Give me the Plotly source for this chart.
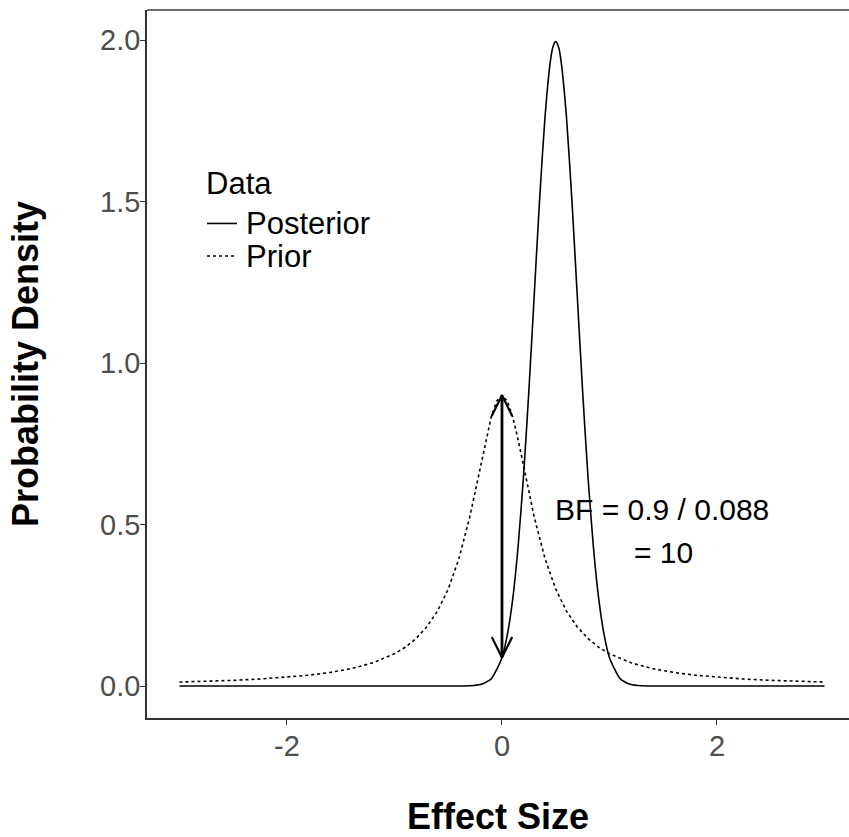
import plotly.graph_objects as go

# ---- data ----
prior_x = [-3.0, -2.75, -2.5, -2.25, -2.0, -1.8, -1.6, -1.4, -1.2, -1.0, -0.9, -0.8, -0.7, -0.6,
           -0.5, -0.4, -0.3, -0.2, -0.15, -0.1, -0.05, 0.0, 0.05, 0.1, 0.15, 0.2, 0.3, 0.4, 0.5,
           0.6, 0.7, 0.8, 0.9, 1.0, 1.2, 1.4, 1.6, 1.8, 2.0, 2.25, 2.5, 2.75, 3.0]
prior_y = [0.0123, 0.0146, 0.0176, 0.0217, 0.0273, 0.0334, 0.0419, 0.054, 0.0719, 0.100, 0.120,
           0.147, 0.183, 0.232, 0.300, 0.395, 0.523, 0.682, 0.763, 0.833, 0.882, 0.900, 0.882,
           0.833, 0.763, 0.682, 0.523, 0.395, 0.300, 0.232, 0.183, 0.147, 0.120, 0.100, 0.0719,
           0.054, 0.0419, 0.0334, 0.0273, 0.0217, 0.0176, 0.0146, 0.0123]

post_x = [-3.0, -1.0, -0.5, -0.4, -0.3, -0.2, -0.1, 0.0, 0.05, 0.1, 0.15, 0.2, 0.25, 0.3, 0.35,
          0.4, 0.45, 0.475, 0.5, 0.525, 0.55, 0.6, 0.65, 0.7, 0.75, 0.8, 0.85, 0.9, 0.95, 1.0,
          1.1, 1.2, 1.3, 1.4, 1.5, 3.0]
post_y = [0.0, 0.0, 0.0, 0.00008, 0.00067, 0.0044, 0.0222, 0.0876, 0.159, 0.270, 0.432, 0.648,
          0.913, 1.210, 1.506, 1.761, 1.934, 1.980, 1.995, 1.980, 1.934, 1.761, 1.506, 1.210,
          0.913, 0.648, 0.432, 0.270, 0.159, 0.0876, 0.0222, 0.0044, 0.00067, 0.00008, 0.0, 0.0]

series_names = ["Posterior", "Prior"]
series_dash = ["solid", "dot"]
legend_title = "Data"
bf_at = 0.0                 # effect size where densities are compared
bf_prior = 0.9
bf_post = 0.088
bf_lines = ["BF = 0.9 / 0.088", "= 10"]
x_ticks = [-2, 0, 2]
y_ticks = [0.0, 0.5, 1.0, 1.5, 2.0]
y_tick_labels = ["0.0", "0.5", "1.0", "1.5", "2.0"]

FONT = "Liberation Sans, Arial, sans-serif"

fig = go.Figure()
fig.add_trace(go.Scatter(x=post_x, y=post_y, mode="lines", name=series_names[0], showlegend=False,
                         line=dict(color="black", width=1.6, dash=series_dash[0], shape="spline",
                                   smoothing=0.6)))
fig.add_trace(go.Scatter(x=prior_x, y=prior_y, mode="lines", name=series_names[1], showlegend=False,
                         line=dict(color="black", width=1.6, dash=series_dash[1])))

# double-headed arrow between the two densities at 0
hx, hy = 0.095, 0.064
fig.add_trace(go.Scatter(x=[bf_at, bf_at], y=[bf_post, bf_prior], mode="lines",
                         line=dict(color="black", width=2.8), showlegend=False, hoverinfo="skip"))
fig.add_trace(go.Scatter(x=[bf_at - hx, bf_at, bf_at + hx], y=[bf_prior - hy, bf_prior, bf_prior - hy],
                         mode="lines", line=dict(color="black", width=2.2), showlegend=False, hoverinfo="skip"))
fig.add_trace(go.Scatter(x=[bf_at - hx, bf_at, bf_at + hx], y=[bf_post + hy, bf_post, bf_post + hy],
                         mode="lines", line=dict(color="black", width=2.2), showlegend=False, hoverinfo="skip"))

fig.add_annotation(x=1.485, y=0.545, text=bf_lines[0], showarrow=False, xanchor="center",
                   yanchor="middle", font=dict(family=FONT, size=30, color="black"))
fig.add_annotation(x=1.505, y=0.412, text=bf_lines[1], showarrow=False, xanchor="center",
                   yanchor="middle", font=dict(family=FONT, size=30, color="black"))

# legend drawn by hand (ggplot-style key)
LEG_FONT = dict(family=FONT, size=31, color="black")
fig.add_annotation(xref="paper", yref="paper", x=0.0815, y=0.7556, text=legend_title,
                   showarrow=False, xanchor="left", yanchor="middle", font=LEG_FONT)
leg_rows = [0.6985, 0.6525]
for name, dash, yy in zip(series_names, series_dash, leg_rows):
    fig.add_shape(type="line", xref="paper", yref="paper", x0=0.0855, x1=0.1282, y0=yy, y1=yy,
                  line=dict(color="black", width=1.6, dash=dash))
    fig.add_annotation(xref="paper", yref="paper", x=0.1385, y=yy, text=name,
                       showarrow=False, xanchor="left", yanchor="middle", font=LEG_FONT)

# top border line
fig.add_shape(type="line", xref="paper", yref="paper", x0=0, x1=1, y0=1, y1=1,
              line=dict(color="#6e6e6e", width=2))

fig.update_layout(
    width=849, height=837,
    margin=dict(l=147, r=0, t=10, b=119),
    paper_bgcolor="white", plot_bgcolor="white",
    font=dict(family=FONT, color="black"),
    showlegend=False,
    xaxis=dict(range=[-3.302, 3.228], tickvals=x_ticks, ticktext=[str(v) for v in x_ticks],
               showgrid=False, zeroline=False, showline=True, linecolor="#333333", linewidth=1.6,
               ticks="outside", ticklen=5, tickwidth=1.4, tickcolor="#333333",
               ticklabelstandoff=-4,
               tickfont=dict(size=29, color="#4D4D4D", family=FONT),
               title=dict(text="<b>Effect Size</b>", font=dict(size=36, family=FONT, color="black"),
                          standoff=44)),
    yaxis=dict(range=[-0.099, 2.093], tickvals=y_ticks, ticktext=y_tick_labels,
               showgrid=False, zeroline=False, showline=True, linecolor="#333333", linewidth=1.6,
               ticks="outside", ticklen=5, tickwidth=1.4, tickcolor="#333333",
               ticklabelstandoff=-6,
               tickfont=dict(size=29, color="#4D4D4D", family=FONT),
               title=dict(text="<b>Probability Density</b>", font=dict(size=36, family=FONT, color="black"),
                          standoff=50)),
)

fig.write_html("out.html")
